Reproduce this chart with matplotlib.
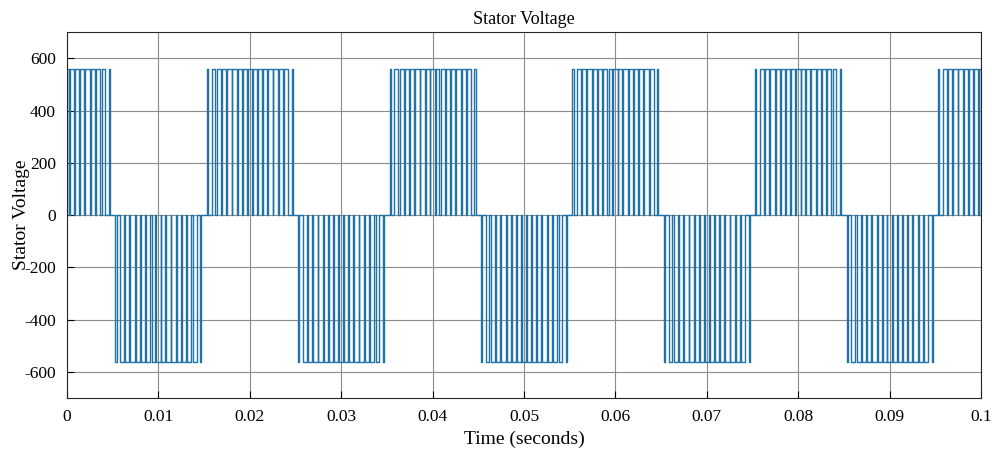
import numpy as np
import matplotlib
matplotlib.use("Agg")
import matplotlib.pyplot as plt

plt.rcParams['font.family'] = ['Liberation Serif', 'DejaVu Serif']
plt.rcParams['axes.unicode_minus'] = False

# half-cycle centres (s) and polarity of the fundamental
half_centers = [0.0, 0.01, 0.02, 0.03, 0.04, 0.05, 0.06, 0.07, 0.08, 0.09, 0.10]
half_signs = [1, -1, 1, -1, 1, -1, 1, -1, 1, -1, 1]

# pulse on/off edges inside one half cycle, ms from its centre
pulse_on = [-4.70, -4.18, -3.62, -3.06, -2.49, -1.91, -1.33, -0.75, -0.25,
            0.33, 0.87, 1.43, 2.00, 2.58, 3.17, 3.78, 4.58]
pulse_off = [-4.58, -3.78, -3.17, -2.58, -2.00, -1.43, -0.87, -0.33, 0.25,
             0.75, 1.33, 1.91, 2.49, 3.06, 3.62, 4.18, 4.70]

vdc = 560
t_end = 0.1

# build the switched waveform from the edges
t = [0.0]
v = [0.0]
for c, s in zip(half_centers, half_signs):
    for a, b in zip(pulse_on, pulse_off):
        t0 = c + a / 1000
        t1 = c + b / 1000
        if t1 <= 0 or t0 >= t_end:
            continue
        t0 = max(t0, 0.0)
        t1 = min(t1, t_end)
        t += [t0, t0, t1, t1]
        v += [0, s * vdc, s * vdc, 0]
t.append(t_end)
v.append(0)

fig = plt.figure(figsize=(9.92, 4.53), dpi=100)
ax = fig.add_axes([0.0675, 0.121, 0.9215, 0.808])
ax.plot(t, v, color='#1f73a6', linewidth=1.0)

ax.set_xlim(0, 0.1)
ax.set_ylim(-700, 700)
ax.set_xticks(np.arange(0, 0.101, 0.01))
ax.set_xticklabels(['0', '0.01', '0.02', '0.03', '0.04', '0.05', '0.06', '0.07', '0.08', '0.09', '0.1'])
ax.set_yticks([-600, -400, -200, 0, 200, 400, 600])
ax.grid(True, color='#8c8c8c', linewidth=0.8)
ax.set_axisbelow(True)
ax.tick_params(direction='in', labelsize=12.5, length=5, pad=8)
for sp in ax.spines.values():
    sp.set_color('#262626')

ax.set_title('Stator Voltage', fontsize=13, pad=6)
ax.set_xlabel('Time (seconds)', fontsize=14, labelpad=4)
ax.set_ylabel('Stator Voltage', fontsize=14, labelpad=-4)

fig.savefig('out.png', dpi=100)
